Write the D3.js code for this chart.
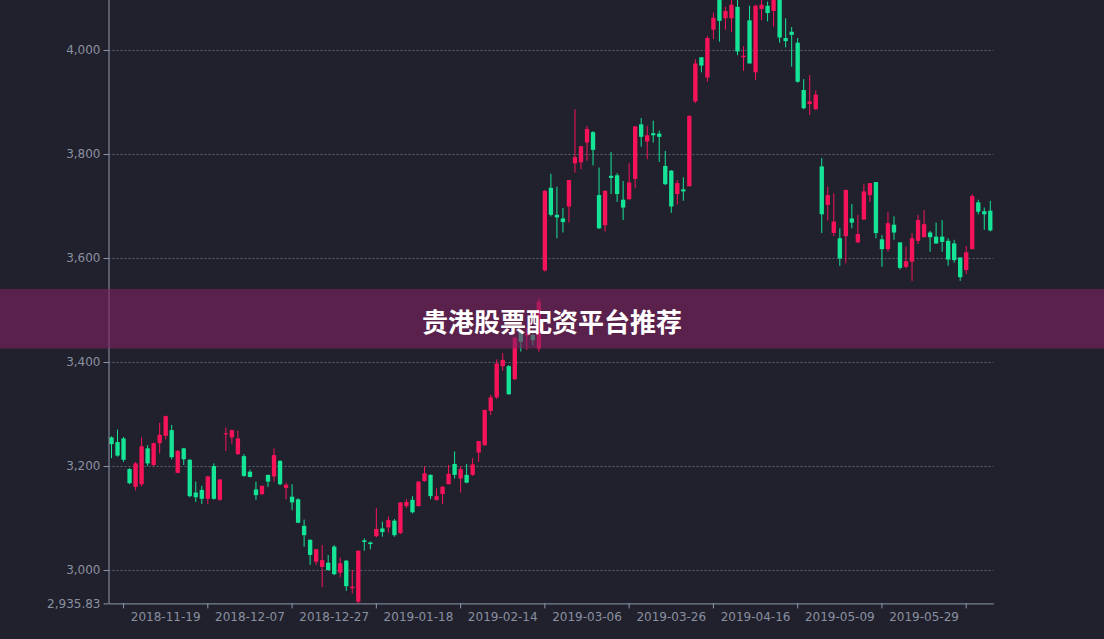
<!DOCTYPE html>
<html><head><meta charset="utf-8">
<script src="https://cdn.jsdelivr.net/npm/d3@7/dist/d3.min.js"></script>
<style>html,body{margin:0;padding:0;background:#20212d;overflow:hidden}svg{display:block}</style>
</head><body><svg id="c" width="1104" height="639"></svg>
<script>
const dates = ["2018-11-06","2018-11-07","2018-11-08","2018-11-09","2018-11-12","2018-11-13","2018-11-14","2018-11-15","2018-11-16","2018-11-19",
"2018-11-20","2018-11-21","2018-11-22","2018-11-23","2018-11-26","2018-11-27","2018-11-28","2018-11-29","2018-11-30","2018-12-03",
"2018-12-04","2018-12-05","2018-12-06","2018-12-07","2018-12-10","2018-12-11","2018-12-12","2018-12-13","2018-12-14","2018-12-17",
"2018-12-18","2018-12-19","2018-12-20","2018-12-21","2018-12-24","2018-12-25","2018-12-26","2018-12-27","2018-12-28","2019-01-02",
"2019-01-03","2019-01-04","2019-01-07","2019-01-08","2019-01-09","2019-01-10","2019-01-11","2019-01-14","2019-01-15","2019-01-16",
"2019-01-17","2019-01-18","2019-01-21","2019-01-22","2019-01-23","2019-01-24","2019-01-25","2019-01-28","2019-01-29","2019-01-30",
"2019-01-31","2019-02-01","2019-02-11","2019-02-12","2019-02-13","2019-02-14","2019-02-15","2019-02-18","2019-02-19","2019-02-20",
"2019-02-21","2019-02-22","2019-02-25","2019-02-26","2019-02-27","2019-02-28","2019-03-01","2019-03-04","2019-03-05","2019-03-06",
"2019-03-07","2019-03-08","2019-03-11","2019-03-12","2019-03-13","2019-03-14","2019-03-15","2019-03-18","2019-03-19","2019-03-20",
"2019-03-21","2019-03-22","2019-03-25","2019-03-26","2019-03-27","2019-03-28","2019-03-29","2019-04-01","2019-04-02","2019-04-03",
"2019-04-04","2019-04-08","2019-04-09","2019-04-10","2019-04-11","2019-04-12","2019-04-15","2019-04-16","2019-04-17","2019-04-18",
"2019-04-19","2019-04-22","2019-04-23","2019-04-24","2019-04-25","2019-04-26","2019-04-29","2019-04-30","2019-05-06","2019-05-07",
"2019-05-08","2019-05-09","2019-05-10","2019-05-13","2019-05-14","2019-05-15","2019-05-16","2019-05-17","2019-05-20","2019-05-21",
"2019-05-22","2019-05-23","2019-05-24","2019-05-27","2019-05-28","2019-05-29","2019-05-30","2019-05-31","2019-06-03","2019-06-04",
"2019-06-05","2019-06-06","2019-06-10","2019-06-11","2019-06-12","2019-06-13","2019-06-14"];

const openV = [3255,3246,3253,3194,3160,3165,3234,3202,3244,3258,
3269,3187,3234,3212,3149,3154,3137,3200,3135,3261,
3255,3223,3219,3189,3155,3146,3183,3180,3210,3158,
3141,3136,3085,3058,3016,3006,3014,3045,2995,3018,
2965,2939,3057,3053,3065,3080,3082,3095,3071,3123,
3135,3123,3171,3183,3135,3146,3165,3204,3176,3183,
3183,3226,3240,3306,3332,3392,3392,3367,3458,3451,
3452,3426,3576,3735,3683,3676,3699,3782,3784,3822,
3842,3721,3663,3758,3759,3712,3713,3752,3857,3824,
3840,3839,3777,3768,3723,3732,3738,3901,3986,3947,
4039,4105,4061,4061,4083,3986,4057,3957,4079,4085,
4075,4110,4023,4035,4014,3923,3896,3886,3776,3702,
3648,3638,3642,3676,3630,3674,3721,3746,3636,3617,
3664,3630,3583,3593,3633,3640,3649,3641,3641,3633,
3628,3601,3577,3617,3707,3690,3691];

const closeV = [3242,3220,3212,3167,3205,3238,3205,3244,3260,3296,
3217,3229,3213,3142,3140,3137,3180,3137,3174,3263,
3269,3253,3181,3179,3144,3162,3170,3221,3165,3164,
3130,3091,3067,3029,3040,3019,3000,2992,3013,2969,
2968,3037,3054,3050,3079,3073,3096,3067,3130,3131,
3111,3170,3186,3142,3142,3160,3185,3183,3194,3168,
3203,3248,3308,3332,3397,3404,3338,3447,3439,3454,
3442,3516,3729,3683,3678,3669,3750,3794,3815,3848,
3808,3657,3729,3754,3723,3697,3745,3853,3833,3836,
3836,3833,3742,3699,3744,3728,3873,3974,3970,4023,
4062,4056,4075,4087,3997,3989,3974,4085,4087,4071,
4118,4024,4017,4029,3939,3888,3901,3914,3684,3721,
3670,3599,3731,3668,3646,3728,3744,3648,3617,3667,
3649,3581,3594,3638,3673,3665,3640,3628,3631,3597,
3596,3563,3611,3719,3689,3684,3653];

const lowV = [3215,3218,3208,3165,3153,3161,3200,3200,3224,3251,
3213,3186,3202,3140,3131,3127,3127,3135,3133,3229,
3243,3221,3179,3178,3135,3144,3160,3170,3163,3136,
3115,3090,3045,3010,3010,2967,2999,2990,2986,2960,
2955,2935.83,3037,3040,3063,3064,3072,3064,3069,3119,
3109,3122,3170,3136,3133,3127,3165,3176,3149,3167,
3181,3208,3239,3298,3329,3383,3337,3365,3420,3423,
3432,3420,3574,3680,3638,3649,3668,3764,3771,3787,
3778,3656,3651,3723,3708,3673,3712,3734,3814,3790,
3822,3785,3740,3687,3703,3710,3738,3898,3957,3939,
4021,4016,4039,4035,3990,3960,3974,3942,4057,4055,
4045,4014,4005,3968,3937,3886,3875,3885,3648,3672,
3642,3585,3590,3657,3629,3673,3708,3638,3583,3612,
3635,3578,3580,3556,3627,3640,3612,3627,3612,3585,
3591,3556,3569,3617,3684,3654,3651];

const highV = [3257,3270,3256,3196,3208,3255,3240,3245,3283,3297,
3279,3231,3235,3213,3170,3162,3181,3205,3175,3274,
3270,3268,3223,3193,3170,3162,3183,3234,3211,3168,
3165,3138,3097,3059,3040,3048,3029,3048,3024,3019,
3000,3038,3061,3055,3119,3093,3103,3098,3130,3136,
3142,3171,3200,3184,3157,3162,3202,3228,3200,3204,
3215,3248,3308,3337,3405,3417,3394,3448,3462,3465,
3462,3523,3731,3762,3737,3696,3750,3886,3815,3854,
3844,3774,3730,3804,3763,3748,3782,3853,3869,3854,
3864,3845,3806,3769,3750,3755,3875,3982,3986,4027,
4072,4112,4083,4104,4099,4007,4085,4087,4110,4093,
4126.09,4112,4061,4044,4023,3944,3952,3922,3792,3737,
3724,3657,3731,3704,3683,3742,3744,3746,3644,3689,
3680,3630,3622,3648,3683,3692,3652,3668,3673,3638,
3635,3601,3623,3723,3712,3697,3710];

const yTickValues = [3000, 3200, 3400, 3600, 3800, 4000];
const xLabelDates = ["2018-11-19","2018-12-07","2018-12-27","2019-01-18","2019-02-14","2019-03-06","2019-03-26","2019-04-16","2019-05-09","2019-05-29"];
const xTickDates = ["2018-11-08","2018-11-28","2018-12-18","2019-01-09","2019-01-29","2019-02-25","2019-03-15","2019-04-04","2019-04-25","2019-05-20","2019-06-10"];
const bannerText = "贵港股票配资平台推荐";

const upColor = "#f7135a", downColor = "#15e396";
const labelColor = "#8a90a0", axisColor = "#8e98aa", gridColor = "#5f6373";
const plotLeft = 108.5, plotRight = 993.3, plotTop = -15.6, plotBottom = 603.4;

const svg = d3.select("#c");
const font = "'DejaVu Sans', sans-serif";

const yMin = d3.min(lowV), yMax = d3.max(highV);
const y = d3.scaleLinear().domain([yMin, yMax]).range([plotBottom, plotTop]);
const x = d3.scaleBand().domain(dates).range([plotLeft, plotRight]).paddingInner(0).paddingOuter(0);
const bw = x.bandwidth();
const cx = d => x(d) + bw / 2;

// grid
svg.append("g").selectAll("line").data(yTickValues).join("line")
  .attr("x1", plotLeft).attr("x2", plotRight)
  .attr("y1", d => Math.round(y(d)) + 0.5).attr("y2", d => Math.round(y(d)) + 0.5)
  .attr("stroke", gridColor).attr("stroke-width", 1).attr("stroke-dasharray", "2,2");

// candles
const candles = dates.map((d, i) => ({d, o: openV[i], c: closeV[i], l: lowV[i], h: highV[i]}));
const cg = svg.append("g");
cg.selectAll("line").data(candles).join("line")
  .attr("x1", d => cx(d.d)).attr("x2", d => cx(d.d))
  .attr("y1", d => y(d.h)).attr("y2", d => y(d.l))
  .attr("stroke", d => d.c >= d.o ? upColor : downColor).attr("stroke-width", 1);
const bodyW = bw * 0.72;
cg.selectAll("rect").data(candles).join("rect")
  .attr("x", d => cx(d.d) - bodyW / 2).attr("width", bodyW)
  .attr("y", d => y(Math.max(d.o, d.c)))
  .attr("height", d => Math.max(1, Math.abs(y(d.o) - y(d.c))))
  .attr("fill", d => d.c >= d.o ? upColor : downColor);

// y axis
const yAxis = d3.axisLeft(y).tickValues([yMin].concat(yTickValues))
  .tickFormat(d => d === yMin ? d3.format(",.2f")(d) : d3.format(",")(d))
  .tickSizeInner(5).tickSizeOuter(0).tickPadding(3);
const ya = svg.append("g").attr("transform", `translate(${plotLeft},0)`).call(yAxis);
ya.select(".domain").attr("stroke", axisColor);
ya.selectAll(".tick line").attr("stroke", axisColor);
ya.selectAll("text").attr("fill", labelColor).style("font-family", font).style("font-size", "12px");

// x axis ticks
const xTickAxis = d3.axisBottom(x).tickValues(xTickDates).tickFormat("").tickSizeInner(5).tickSizeOuter(0);
const xa = svg.append("g").attr("transform", `translate(0,${plotBottom})`).call(xTickAxis);
xa.select(".domain").attr("stroke", axisColor);
xa.selectAll(".tick line").attr("stroke", axisColor);
// x labels
const xLabAxis = d3.axisBottom(x).tickValues(xLabelDates).tickSize(0).tickPadding(9);
const xl = svg.append("g").attr("transform", `translate(0,${plotBottom})`).call(xLabAxis);
xl.select(".domain").remove();
xl.selectAll("text").attr("fill", labelColor).style("font-family", font).style("font-size", "12px");

// banner
svg.append("rect").attr("x", 0).attr("y", 289).attr("width", 1104).attr("height", 59.5)
  .attr("fill", "rgba(129,33,95,0.6)");
svg.append("text").attr("x", 552).attr("y", 320.5).attr("text-anchor", "middle")
  .attr("dominant-baseline", "central")
  .attr("fill", "#ffffff").style("font-family", "'Noto Sans CJK SC', sans-serif")
  .style("font-weight", "bold").style("font-size", "26px").text(bannerText);
</script></body></html>
